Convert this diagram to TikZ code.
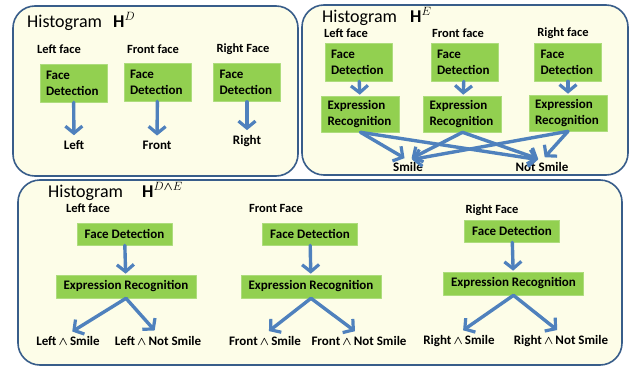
\documentclass[tikz,border=0pt]{standalone}
\usepackage{amsmath,amssymb,bm}
\usepackage{fontspec}
\setmainfont{Carlito}
\usepackage{xcolor}
\usetikzlibrary{arrows.meta,calc}

\definecolor{panelline}{RGB}{56,93,138}
\definecolor{panelfill}{RGB}{253,253,232}
\definecolor{stepgreen}{RGB}{146,208,80}
\definecolor{flowblue}{RGB}{79,129,189}

\begin{document}
\begin{tikzpicture}[x=1pt,y=-1pt,line join=round,
  panel/.style={draw=panelline,fill=panelfill,line width=1.6pt,rounded corners=22pt},
  title/.style={anchor=base west,inner sep=0pt,font=\fontsize{18}{21}\selectfont},
  face/.style={inner sep=1pt,font=\bfseries\fontsize{12.5}{14}\selectfont},
  result/.style={inner sep=2pt,font=\bfseries\fontsize{13}{15}\selectfont},
  stepbox/.style={fill=stepgreen,draw=stepgreen!75!white,line width=0.6pt,inner sep=0pt,
    font=\bfseries\fontsize{13}{16}\selectfont},
  tallbox/.style={stepbox,inner xsep=6pt,minimum height=38pt,align=left},
  widebox/.style={stepbox,minimum height=22pt},
  flow/.style={-{Straight Barb[length=7pt,width=17pt,line width=3.2pt]},draw=flowblue,
    line width=3.4pt,line cap=round,shorten >=1pt}
]
  \useasboundingbox (0,0) rectangle (635,367);
  % panels
  \draw[panel] (13,6) rectangle (298,176);
  \draw[panel] (302,5) rectangle (628,175);
  \draw[panel] (18,180) rectangle (622,365);

  % histogram H^D
  \node[title] (tD) at (27,27) {Histogram};
  \node[title] (mD) at (113,27) {$\mathbf{H}^{D}$};
  \node[face] (dLf) at (59,49) {Left face};
  \node[face] (dFf) at (153,49) {Front face};
  \node[face] (dRf) at (243,49) {Right Face};
  \node[tallbox,text width=55pt] (dL) at (73.5,83) {Face\\Detection};
  \node[tallbox,text width=55pt] (dF) at (157.5,82) {Face\\Detection};
  \node[tallbox,text width=55pt] (dR) at (247,82.5) {Face\\Detection};
  \node[result] (dLo) at (74,145) {Left};
  \node[result] (dFo) at (157,145) {Front};
  \node[result] (dRo) at (247,141) {Right};
  \draw[flow,shorten >=3pt] (dL) -- (dLo);
  \draw[flow,shorten >=3pt] (dF) -- (dFo);
  \draw[flow,shorten >=3pt] (dR) -- (dRo);

  % histogram H^E
  \node[title] (tE) at (322,22) {Histogram};
  \node[title] (mE) at (410,22) {$\mathbf{H}^{E}$};
  \node[face] (eLf) at (346,33) {Left face};
  \node[face] (eFf) at (458,33) {Front face};
  \node[face] (eRf) at (563,33) {Right face};
  \node[tallbox,text width=55pt] (eLd) at (358.5,62) {Face\\Detection};
  \node[tallbox,text width=55pt] (eFd) at (464.5,62) {Face\\Detection};
  \node[tallbox,text width=55pt] (eRd) at (568,62) {Face\\Detection};
  \node[tallbox,text width=66pt,minimum height=36pt] (eLe) at (360.5,114) {Expression\\Recognition};
  \node[tallbox,text width=66pt,minimum height=36pt] (eFe) at (462.5,114) {Expression\\Recognition};
  \node[tallbox,text width=66pt,minimum height=36pt] (eRe) at (568,113) {Expression\\Recognition};
  \node[result] (eS) at (408,167) {Smile};
  \node[result] (eN) at (542,167) {Not Smile};
  \draw[flow] (eLd) -- (eLe);
  \draw[flow] (eFd) -- (eFe);
  \draw[flow] (eRd) -- (eRe);
  \foreach \src in {eLe,eFe,eRe}{
    \draw[flow,shorten >=4pt] (\src.south) -- (eS.north);
    \draw[flow,shorten >=4pt] (\src.south) -- (eN.north);
  }

  % histogram H^{D^E}
  \node[title] (tDE) at (48,197) {Histogram};
  \node[title] (mDE) at (142,197) {$\mathbf{H}^{D\bm{\wedge} E}$};
  \node[face] (xLf) at (88,208) {Left face};
  \node[face] (xFf) at (276,208) {Front Face};
  \node[face] (xRf) at (492,210) {Right Face};
  \node[widebox,minimum width=95pt] (xLd) at (124.5,234) {Face Detection};
  \node[widebox,minimum width=95pt] (xFd) at (310,234) {Face Detection};
  \node[widebox,minimum width=95pt] (xRd) at (512,231) {Face Detection};
  \node[widebox,minimum width=140pt,minimum height=23pt] (xLe) at (126,286.5) {Expression Recognition};
  \node[widebox,minimum width=140pt,minimum height=23pt] (xFe) at (311,286.5) {Expression Recognition};
  \node[widebox,minimum width=140pt,minimum height=23pt] (xRe) at (513.5,283.5) {Expression Recognition};
  \node[result] (xLs) at (68,341) {Left\,$\bm{\wedge}$\,Smile};
  \node[result] (xLn) at (158,341) {Left\,$\bm{\wedge}$\,Not Smile};
  \node[result] (xFs) at (265,341) {Front\,$\bm{\wedge}$\,Smile};
  \node[result] (xFn) at (359,341) {Front\,$\bm{\wedge}$\,Not Smile};
  \node[result] (xRs) at (459,341) {Right\,$\bm{\wedge}$\,Smile};
  \node[result] (xRn) at (561,341) {Right\,$\bm{\wedge}$\,Not Smile};
  \draw[flow] (xLd) -- (xLe);
  \draw[flow] (xFd) -- (xFe);
  \draw[flow] (xRd) -- (xRe);
  \draw[flow,shorten >=5pt] (xLe.south) -- (xLs.north);
  \draw[flow,shorten >=5pt] (xLe.south) -- (xLn.north);
  \draw[flow,shorten >=5pt] (xFe.south) -- (xFs.north);
  \draw[flow,shorten >=5pt] (xFe.south) -- (xFn.north);
  \draw[flow,shorten >=5pt] (xRe.south) -- (xRs.north);
  \draw[flow,shorten >=5pt] (xRe.south) -- (xRn.north);
\end{tikzpicture}
\end{document}
